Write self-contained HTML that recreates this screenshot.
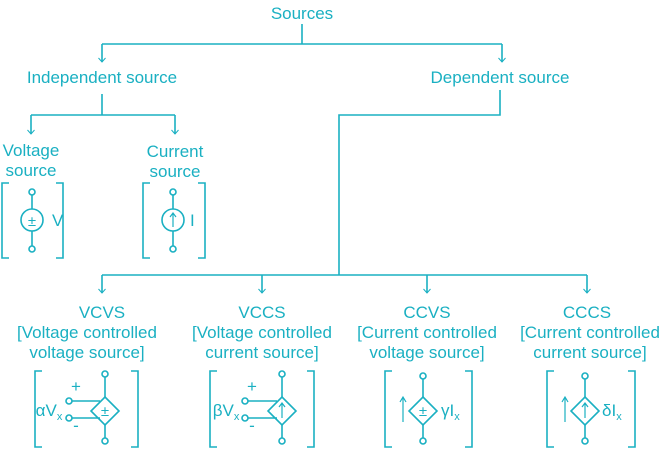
<!DOCTYPE html>
<html><head><meta charset="utf-8"><style>
html,body{margin:0;padding:0;background:#fff;}
svg{display:block;}
text{font-family:"Liberation Sans",sans-serif;fill:#1ab0c2;font-size:17px;text-anchor:middle;}
</style></head><body>
<svg width="662" height="449" viewBox="0 0 662 449" xmlns="http://www.w3.org/2000/svg">
<defs>
<marker id="a" markerWidth="10" markerHeight="10" refX="7" refY="4" orient="auto" markerUnits="userSpaceOnUse">
<path d="M3,0.5 L7,4 L3,7.5" fill="none" stroke="#1ab0c2" stroke-width="1"/>
</marker>
</defs>
<g stroke="#1ab0c2" stroke-width="1.6" fill="none">
<path d="M302,24 V44 M102,44 H502"/>
<path d="M102,44 V62" marker-end="url(#a)"/>
<path d="M502,44 V62" marker-end="url(#a)"/>
<path d="M102,94 V115 M31,115 H175"/>
<path d="M31,115 V134" marker-end="url(#a)"/>
<path d="M175,115 V134" marker-end="url(#a)"/>
<path d="M500,90 V115 H339 V275 M102,275 H587"/>
<path d="M102,275 V293" marker-end="url(#a)"/>
<path d="M262,275 V293" marker-end="url(#a)"/>
<path d="M427,275 V293" marker-end="url(#a)"/>
<path d="M587,275 V293" marker-end="url(#a)"/>

<path d="M9,183 H2 V258 H9 M56,183 H63 V258 H56"/>
<path d="M32,195 V209 M32,231 V246"/>
<circle cx="32" cy="192" r="3"/><circle cx="32" cy="249" r="3"/>
<circle cx="32" cy="220" r="11"/>
<path d="M150,183 H143 V258 H150 M198,183 H205 V258 H198"/>
<path d="M173,195 V209 M173,231 V246"/>
<circle cx="173" cy="192" r="3"/><circle cx="173" cy="249" r="3"/>
<circle cx="173" cy="220" r="11"/>
<path d="M173,227 V214 M170,217 L173,213 L176,217" stroke-width="1.2"/>

<path d="M42,371 H35 V447 H42 M131,371 H138 V447 H131"/>
<circle cx="105" cy="374" r="3"/><circle cx="105" cy="441" r="3"/>
<path d="M105,377 V397 M105,425 V438"/>
<path d="M105,397 L119,411 L105,425 L91,411 Z"/>
<circle cx="69" cy="401" r="3"/><circle cx="69" cy="418" r="3"/>
<path d="M72,401 H100 M72,418 H100"/>
<path d="M217,371 H210 V447 H217 M307,371 H314 V447 H307"/>
<circle cx="282" cy="374" r="3"/><circle cx="282" cy="441" r="3"/>
<path d="M282,377 V397 M282,425 V438"/>
<path d="M282,397 L296,411 L282,425 L268,411 Z"/>
<circle cx="245" cy="401" r="3"/><circle cx="245" cy="418" r="3"/>
<path d="M248,401 H277 M248,418 H277"/>
<path d="M282,418 V404 M279,407 L282,403 L285,407" stroke-width="1.2"/>
<path d="M392,371 H385 V447 H392 M465,371 H472 V447 H465"/>
<circle cx="423" cy="376" r="3"/><circle cx="423" cy="441" r="3"/>
<path d="M423,379 V397 M423,425 V438"/>
<path d="M423,397 L437,411 L423,425 L409,411 Z"/>
<path d="M403,422 V398 M400,402 L403,397 L406,402" stroke-width="1.2"/>
<path d="M554,371 H547 V447 H554 M628,371 H635 V447 H628"/>
<circle cx="585" cy="376" r="3"/><circle cx="585" cy="441" r="3"/>
<path d="M585,379 V397 M585,425 V438"/>
<path d="M585,397 L599,411 L585,425 L571,411 Z"/>
<path d="M565,422 V398 M562,402 L565,397 L568,402" stroke-width="1.2"/>
<path d="M585,418 V404 M582,407 L585,403 L588,407" stroke-width="1.2"/>
</g>

<text x="302" y="19">Sources</text>
<text x="102" y="83">Independent source</text>
<text x="500" y="83">Dependent source</text>
<text x="31" y="156">Voltage</text>
<text x="31" y="176">source</text>
<text x="175" y="157">Current</text>
<text x="175" y="177">source</text>
<text x="32" y="226" style="font-size:15px">±</text>
<text x="52" y="226" style="text-anchor:start">V</text>
<text x="190" y="226" style="text-anchor:start">I</text>

<text x="102" y="318">VCVS</text>
<text x="87" y="338">[Voltage controlled</text>
<text x="87" y="358">voltage source]</text>
<text x="262" y="318">VCCS</text>
<text x="262" y="338">[Voltage controlled</text>
<text x="262" y="358">current source]</text>
<text x="427" y="318">CCVS</text>
<text x="427" y="338">[Current controlled</text>
<text x="427" y="358">voltage source]</text>
<text x="587" y="318">CCCS</text>
<text x="590" y="338">[Current controlled</text>
<text x="590" y="358">current source]</text>

<text x="76" y="392">+</text>
<text x="76" y="431">-</text>
<text x="49" y="416">αV<tspan font-size="11" dy="4">x</tspan></text>
<text x="105" y="416" style="font-size:15px">±</text>
<text x="252" y="392">+</text>
<text x="252" y="431">-</text>
<text x="226" y="416">βV<tspan font-size="11" dy="4">x</tspan></text>
<text x="423" y="416" style="font-size:15px">±</text>
<text x="441" y="416" style="text-anchor:start">γI<tspan font-size="11" dy="4">x</tspan></text>
<text x="602" y="416" style="text-anchor:start">δI<tspan font-size="11" dy="4">x</tspan></text>
</svg>
</body></html>
